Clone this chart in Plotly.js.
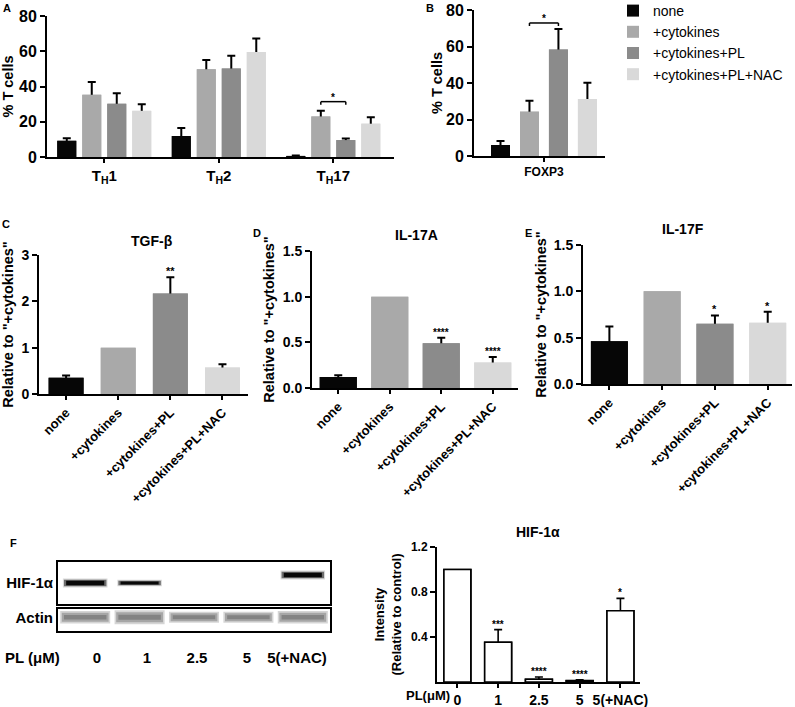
<!DOCTYPE html>
<html><head><meta charset="utf-8">
<script src="https://cdn.plot.ly/plotly-3.0.1.min.js"></script>
<style>html,body{margin:0;padding:0;background:#fff}#chart{width:795px;height:707px}</style>
</head><body><div id="chart"></div>
<script>
// ---------------- data ----------------
const groups = ["none", "+cytokines", "+cytokines+PL", "+cytokines+PL+NAC"];
const subsetsA = ["T<sub>H</sub>1", "T<sub>H</sub>2", "T<sub>H</sub>17"];
const A_none = [9.2, 11.9, 0.6];
const A_cyt = [35.3, 49.8, 23.0];
const A_pl = [30.2, 50.2, 9.6];
const A_nac = [26.2, 59.6, 18.9];
const A_none_err = [1.4, 4.5, 0.2];
const A_cyt_err = [7.3, 5.3, 3.3];
const A_pl_err = [6.0, 7.3, 0.9];
const A_nac_err = [3.8, 7.6, 3.7];
const A_sig = {subset: 2, from: 1, to: 2, label: "*"};

const B_label = ["FOXP3"];
const B_vals = [6.0, 24.3, 58.4, 31.2];
const B_err = [2.2, 6.0, 11.2, 9.0];
const B_sig = {from: 1, to: 2, label: "*"};

const C_vals = [0.35, 1.0, 2.17, 0.57];
const C_err = [0.05, null, 0.35, 0.07];
const C_sig = ["", "", "**", ""];

const D_vals = [0.12, 1.0, 0.49, 0.28];
const D_err = [0.02, null, 0.06, 0.06];
const D_sig = ["", "", "****", "****"];

const E_vals = [0.46, 1.0, 0.65, 0.66];
const E_err = [0.16, null, 0.09, 0.12];
const E_sig = ["", "", "*", "*"];

const lanes = ["0", "1", "2.5", "5", "5(+NAC)"];
const F_vals = [1.0, 0.353, 0.024, 0.012, 0.633];
const F_err = [null, 0.113, 0.021, 0.008, 0.11];
const F_sig = ["", "***", "****", "****", "*"];
// western blot band intensities (relative) and migration shift
const hifBand = [1.0, 0.7, 0, 0, 1.0];
const hifShift = [0, 0, 0, 0, 0.38];
const actinBand = [0.9, 1.0, 0.8, 0.8, 0.9];

// ---------------- style ----------------
const FONT = "Liberation Sans, Arial, Helvetica, sans-serif";
const W = 795, H = 707;
const px = v => v / W;
const py = v => 1 - v / H;
const colors = ["#060606", "#a9a9a9", "#8b8b8b", "#d9d9d9"];
const BARGAP = 0.127, GROUPGAP = 0.24;
const tf = (s, w) => ({family: FONT, size: s, color: "#000", weight: w || "bold"});
const nanify = a => a.map(v => (v === null || v === undefined) ? NaN : v);

const traces = [];
function addBars(o) {
  const marker = {color: o.color, line: o.line || {width: 0}};
  const base = {type: "bar", x: o.x, y: o.y, xaxis: o.xa, yaxis: o.ya, name: o.name,
    offsetgroup: o.group, legendgroup: o.name, marker: marker, hoverinfo: "skip"};
  if (o.width !== undefined) base.width = o.width;
  // bar carrying the error bars
  traces.push(Object.assign({}, base, {showlegend: false,
    error_y: {type: "data", array: nanify(o.err), symmetric: true, color: "#000",
      thickness: o.eth || 2, width: o.ew || 4}}));
  // same bar drawn again on top, hiding the lower whisker
  traces.push(Object.assign({}, base, {showlegend: !!o.showlegend}));
}

const A_series = [A_none, A_cyt, A_pl, A_nac];
const A_errs = [A_none_err, A_cyt_err, A_pl_err, A_nac_err];
groups.forEach((g, i) => addBars({x: subsetsA, y: A_series[i], err: A_errs[i], xa: "x", ya: "y",
  color: colors[i], name: g, group: "g" + i, showlegend: true}));
groups.forEach((g, i) => addBars({x: B_label, y: [B_vals[i]], err: [B_err[i]], xa: "x2", ya: "y2",
  color: colors[i], name: g, group: "g" + i, width: 0.143}));
addBars({x: groups, y: C_vals, err: C_err, xa: "x3", ya: "y3", color: colors, name: "TGF-β", group: "c", width: 0.67});
addBars({x: groups, y: D_vals, err: D_err, xa: "x4", ya: "y4", color: colors, name: "IL-17A", group: "d", width: 0.72});
addBars({x: groups, y: E_vals, err: E_err, xa: "x5", ya: "y5", color: colors, name: "IL-17F", group: "e", width: 0.70});
addBars({x: lanes, y: F_vals, err: F_err, xa: "x8", ya: "y8", color: "#ffffff", name: "HIF-1α intensity",
  group: "f", width: 0.66, line: {color: "#000", width: 1.6}, eth: 1.6, ew: 4});

// western blot bands (layers: faint halo -> dark core, core slightly shorter)
lanes.forEach((l, i) => {
  if (hifBand[i] > 0) {
    [[0.41, 9, "rgba(0,0,0,0.15)"], [0.39, 6.5, "rgba(0,0,0,0.5)"], [0.35, 4.5, "#080808"]].forEach(([hl, w, c]) => {
      traces.push({type: "scatter", mode: "lines", x: [i - hl, i + hl], y: [hifShift[i], hifShift[i]],
        xaxis: "x6", yaxis: "y6", line: {color: c, width: w * hifBand[i]}, hoverinfo: "skip", showlegend: false});
    });
  }
  [[0.46, 14, "rgba(150,150,150,0.4)"], [0.43, 10, "rgba(120,120,120,0.5)"], [0.39, 5, "rgba(95,95,95,0.5)"]].forEach(([hl, w, c]) => {
    traces.push({type: "scatter", mode: "lines", x: [i - hl, i + hl], y: [0, 0],
      xaxis: "x7", yaxis: "y7", line: {color: c, width: w * actinBand[i]}, hoverinfo: "skip", showlegend: false});
  });
});
// carrier for the lane-label axis under the blot (draws nothing)
traces.push({type: "scatter", mode: "none", x: lanes.map((l, i) => i), y: lanes.map(() => 0),
  xaxis: "x9", yaxis: "y7", hoverinfo: "skip", showlegend: false});

// ---------------- annotations & shapes ----------------
const annotations = [];
const shapes = [];
function label(text, x, y, size, weight) {
  annotations.push({text: text, x: px(x), y: py(y), xref: "paper", yref: "paper", showarrow: false,
    xanchor: "center", yanchor: "middle", font: tf(size || 11, weight)});
}
label("A", 7, 8); label("B", 430, 8); label("C", 6, 224); label("D", 257, 233);
label("E", 528, 233); label("F", 13, 543);
label("TGF-β", 152, 241, 14);
label("IL-17A", 416, 235, 14);
label("IL-17F", 683, 229, 14);
label("HIF-1α", 538, 532, 14);
label("PL (μM)", 32, 657, 15);
label("PL(μM)", 428, 695, 13);

function sigStars(vals, errs, sig, xa, ya, size) {
  sig.forEach((s, i) => {
    if (!s) return;
    annotations.push({text: s, x: i, y: vals[i] + (errs[i] || 0), xref: xa, yref: ya,
      showarrow: false, yanchor: "bottom", xanchor: "center", yshift: -2, font: tf(size || 11)});
  });
}
sigStars(C_vals, C_err, C_sig, "x3", "y3", 11);
sigStars(D_vals, D_err, D_sig, "x4", "y4", 10);
sigStars(E_vals, E_err, E_sig, "x5", "y5", 11);
sigStars(F_vals, F_err, F_sig, "x8", "y8", 10);

const slot = (1 - BARGAP) / 4;
const off = i => -(1 - BARGAP) / 2 + slot * (i + 0.5);
function bracket(cat, from, to, tops, xa, ya, pxPerUnit, padPx, text) {
  const level = Math.max(tops[from], tops[to]) + padPx / pxPerUnit;
  const leg = 3 / pxPerUnit;
  const x1 = cat + off(from), x2 = cat + off(to);
  const ln = {color: "#000", width: 1.5};
  shapes.push({type: "line", xref: xa, yref: ya, x0: x1, x1: x2, y0: level, y1: level, line: ln});
  shapes.push({type: "line", xref: xa, yref: ya, x0: x1, x1: x1, y0: level, y1: level - leg, line: ln});
  shapes.push({type: "line", xref: xa, yref: ya, x0: x2, x1: x2, y0: level, y1: level - leg, line: ln});
  annotations.push({text: text, x: (x1 + x2) / 2, y: level, xref: xa, yref: ya, showarrow: false,
    yanchor: "bottom", xanchor: "center", yshift: -3, font: tf(10)});
}
const aTops = A_series.map((s, i) => s[A_sig.subset] + A_errs[i][A_sig.subset]);
bracket(A_sig.subset, A_sig.from, A_sig.to, aTops, "x", "y", 141 / 80, 9, A_sig.label);
const bTops = B_vals.map((v, i) => v + B_err[i]);
bracket(0, B_sig.from, B_sig.to, bTops, "x2", "y2", 146 / 80, 6, B_sig.label);

// ---------------- layout ----------------
const axBase = {showline: true, linecolor: "#000", linewidth: 2, ticks: "outside", ticklen: 5,
  tickwidth: 2, tickcolor: "#000", showgrid: false, zeroline: false, fixedrange: true};
const relTitle = s => ({text: 'Relative to "+cytokines"', font: tf(14.5), standoff: s});
const blotAx = {showline: true, mirror: true, linecolor: "#000", linewidth: 2, ticks: "",
  showgrid: false, zeroline: false, fixedrange: true};

const layout = {
  width: W, height: H, margin: {l: 0, r: 0, t: 0, b: 0, autoexpand: false},
  paper_bgcolor: "#fff", plot_bgcolor: "rgba(0,0,0,0)",
  barmode: "group", bargap: BARGAP, bargroupgap: GROUPGAP,
  showlegend: true,
  legend: {x: px(613), y: 1 + 5 / H, xanchor: "left", yanchor: "top", font: tf(14, "normal"),
    bgcolor: "rgba(0,0,0,0)", tracegroupgap: 2, traceorder: "normal"},
  font: {family: FONT, color: "#000"},
  xaxis: Object.assign({}, axBase, {domain: [px(47), px(394)], anchor: "y", type: "category",
    range: [-0.5, 2.53], tickfont: tf(15), ticklen: 4}),
  yaxis: Object.assign({}, axBase, {domain: [py(157), py(16)], anchor: "x", range: [0, 80],
    tickvals: [0, 20, 40, 60, 80], tickfont: tf(16), title: {text: "% T cells", font: tf(14.5), standoff: 12}}),
  xaxis2: Object.assign({}, axBase, {domain: [px(474), px(605)], anchor: "y2", type: "category",
    range: [-0.527, 0.46], tickfont: tf(12), ticklen: 4}),
  yaxis2: Object.assign({}, axBase, {domain: [py(156), py(10)], anchor: "x2", range: [0, 80],
    tickvals: [0, 20, 40, 60, 80], tickfont: tf(16), title: {text: "% T cells", font: tf(14.5), standoff: 0}}),
  xaxis3: Object.assign({}, axBase, {domain: [px(39), px(248)], anchor: "y3", type: "category",
    range: [-0.52, 3.49], tickfont: tf(13), tickangle: -45, ticklen: 4}),
  yaxis3: Object.assign({}, axBase, {domain: [py(394), py(255)], anchor: "x3", range: [0, 3],
    tickvals: [0, 1, 2, 3], tickfont: tf(14), title: relTitle(10)}),
  xaxis4: Object.assign({}, axBase, {domain: [px(312), px(518)], anchor: "y4", type: "category",
    range: [-0.51, 3.49], tickfont: tf(13), tickangle: -45, ticklen: 4}),
  yaxis4: Object.assign({}, axBase, {domain: [py(388), py(251)], anchor: "x4", range: [0, 1.5],
    tickvals: [0, 0.5, 1, 1.5], tickformat: ".1f", tickfont: tf(14), title: relTitle(5)}),
  xaxis5: Object.assign({}, axBase, {domain: [px(583), px(792)], anchor: "y5", type: "category",
    range: [-0.5, 3.46], tickfont: tf(13), tickangle: -45, ticklen: 4}),
  yaxis5: Object.assign({}, axBase, {domain: [py(384), py(245)], anchor: "x5", range: [0, 1.5],
    tickvals: [0, 0.5, 1, 1.5], tickformat: ".1f", tickfont: tf(14), title: relTitle(4)}),
  // western blot panels
  xaxis6: Object.assign({}, blotAx, {domain: [px(58), px(330)], anchor: "y6", range: [-0.5, 4.5], showticklabels: false}),
  yaxis6: Object.assign({}, blotAx, {domain: [py(604), py(562)], anchor: "x6", range: [-1, 1],
    tickvals: [0], ticktext: ["HIF-1α"], tickfont: tf(15)}),
  xaxis7: Object.assign({}, blotAx, {domain: [px(58), px(330)], anchor: "y7", range: [-0.5, 4.5], showticklabels: false}),
  yaxis7: Object.assign({}, blotAx, {domain: [py(631), py(609)], anchor: "x7", range: [-1.25, 0.75],
    tickvals: [0], ticktext: ["Actin"], tickfont: tf(15)}),
  // lane labels sit on their own axis under the blot
  xaxis9: {domain: [px(58), px(330)], anchor: "y7", overlaying: "x7", side: "bottom", range: [-0.78, 4.66],
    showline: false, ticks: "", tickvals: [0, 1, 2, 3, 4], ticktext: lanes, tickfont: tf(15),
    ticklabelstandoff: 16, showgrid: false, zeroline: false, fixedrange: true},
  xaxis8: Object.assign({}, axBase, {domain: [px(437), px(640)], anchor: "y8", type: "category",
    range: [-0.5, 4.48], tickfont: tf(14), ticklen: 4}),
  yaxis8: Object.assign({}, axBase, {domain: [py(682), py(547)], anchor: "x8", range: [0, 1.2],
    tickvals: [0.4, 0.8, 1.2], tickformat: ".1f", tickfont: tf(12),
    title: {text: "Intensity<br>(Relative to control)", font: tf(13), standoff: 6}}),
  annotations: annotations,
  shapes: shapes
};

Plotly.newPlot("chart", traces, layout, {staticPlot: true, displayModeBar: false});
</script>
</body></html>
